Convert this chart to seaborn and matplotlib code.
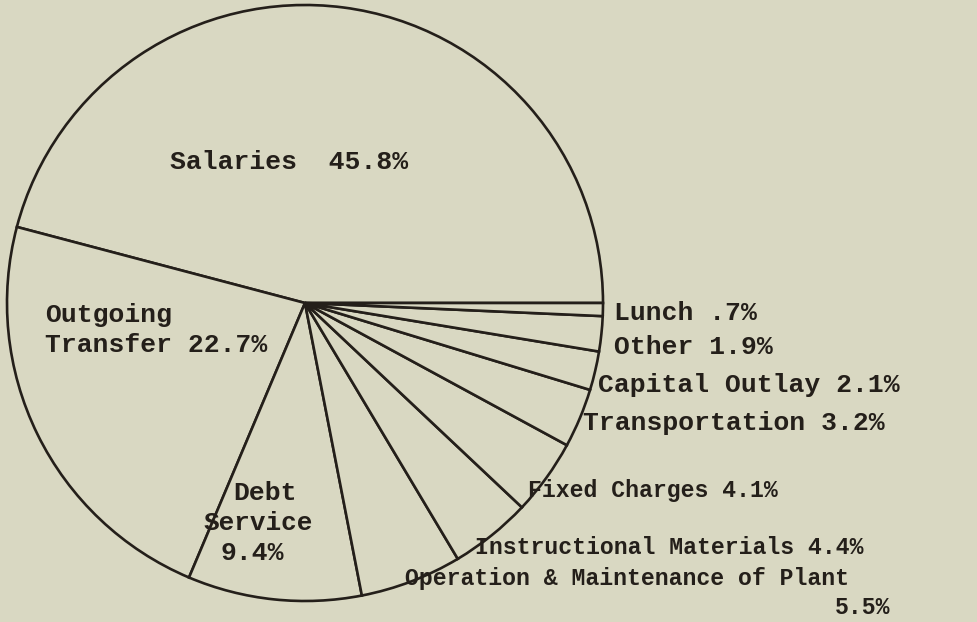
import seaborn as sns
import matplotlib.pyplot as plt

# Budget shares, counterclockwise from 3 o'clock
categories = ["Salaries", "Outgoing Transfer", "Debt Service",
              "Operation & Maintenance of Plant", "Instructional Materials",
              "Fixed Charges", "Transportation", "Capital Outlay", "Other", "Lunch"]
shares = [45.8, 22.7, 9.4, 5.5, 4.4, 4.1, 3.2, 2.1, 1.9, 0.7]
share_text = ["45.8%", "22.7%", "9.4%", "5.5%", "4.4%", "4.1%", "3.2%", "2.1%", "1.9%", ".7%"]

W, H = 977, 622
paper = "#d9d8c2"
ink = "#241f1a"

sns.set_style("white", {"axes.facecolor": paper, "figure.facecolor": paper})
plt.rcParams["font.family"] = ["Liberation Mono", "DejaVu Sans Mono"]

fig = plt.figure(figsize = (W / 100, H / 100), dpi = 100)
ax = fig.add_axes([0, 0, 1, 1])

# Pie laid out in pixel units so labels can sit where the typist put them
ax.pie(shares, startangle = 0, counterclock = True,
       center = (305, H - 303), radius = 298,
       colors = [paper] * len(shares),
       wedgeprops = dict(edgecolor = ink, linewidth = 1.9))
ax.set_xlim(0, W)
ax.set_ylim(0, H)
ax.set_aspect("equal")
ax.axis("off")

def put(x, y, s, size = 19, ha = "left"):
    ax.text(x, H - y, s, ha = ha, va = "center", fontsize = size,
            fontweight = "bold", color = ink)

put(170, 162, f"{categories[0]}  {share_text[0]}")
put(45, 315, "Outgoing")
put(45, 345, f"Transfer {share_text[1]}")
put(233, 493, "Debt")
put(203, 523, "Service", size = 18.7)
put(220, 553, share_text[2])
put(614, 313, f"{categories[9]} {share_text[9]}")
put(614, 347, f"{categories[8]} {share_text[8]}")
put(598, 385, f"{categories[7]} {share_text[7]}")
put(583, 423, f"{categories[6]} {share_text[6]}")
put(528, 490, f"{categories[5]} {share_text[5]}", size = 16.7)
put(475, 548, f"{categories[4]} {share_text[4]}", size = 16.7)
put(405, 578, categories[3], size = 16.7)
put(890, 608, share_text[3], size = 16.7, ha = "right")

fig.savefig("out.png", dpi = 100, facecolor = paper)
